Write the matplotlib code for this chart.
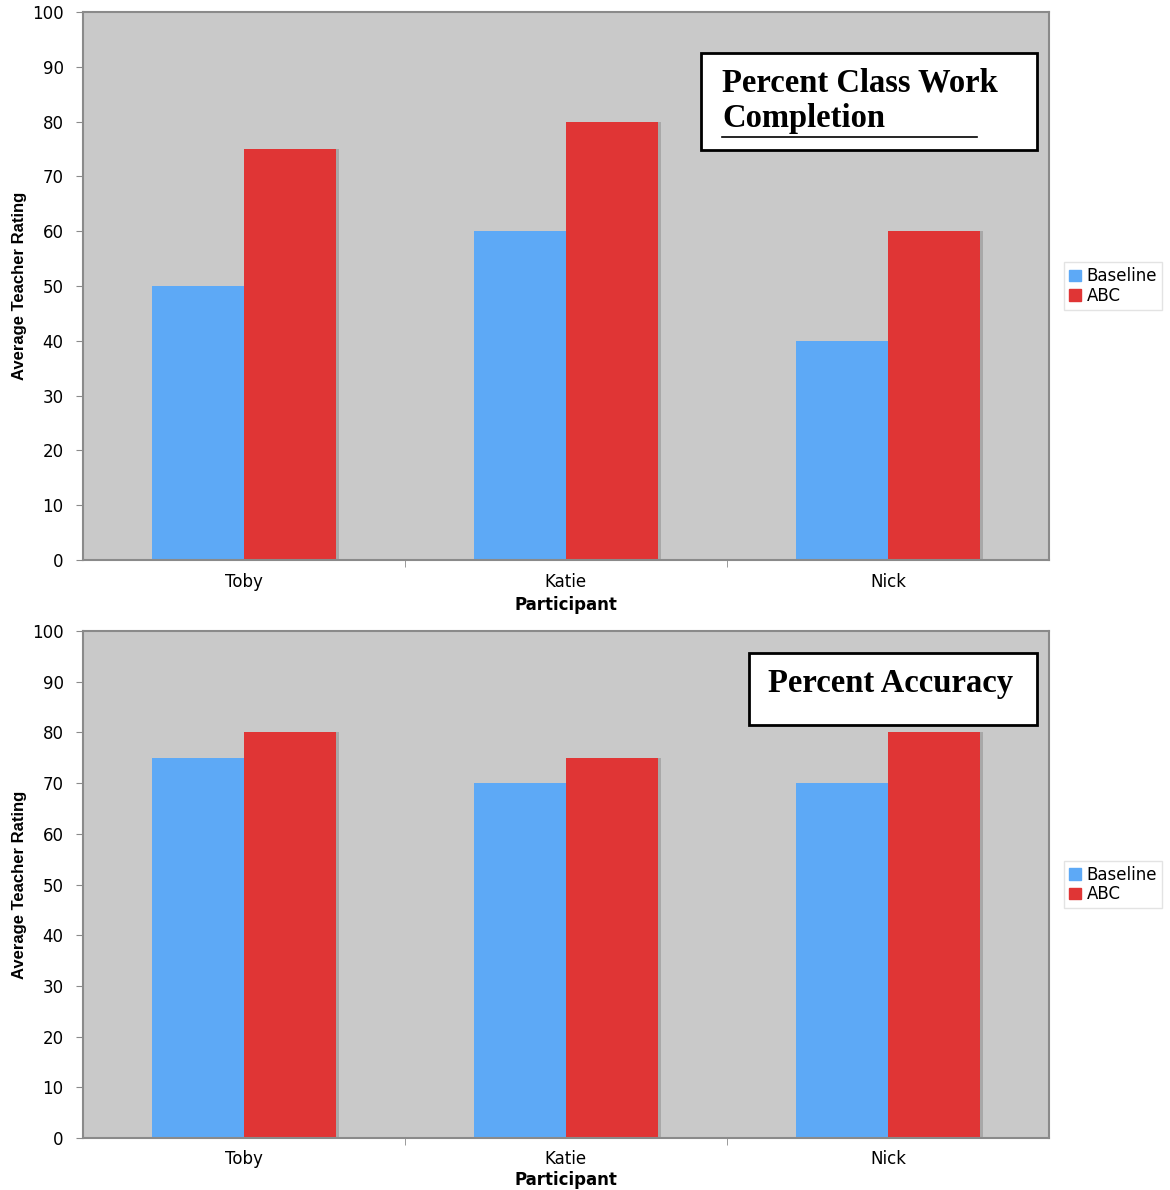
import numpy as np
import matplotlib
matplotlib.use('Agg')
import matplotlib.pyplot as plt
from matplotlib.patches import Patch, Rectangle

plt.rcParams['font.family'] = 'DejaVu Sans'

participants = ['Toby', 'Katie', 'Nick']
completion_baseline = [50, 60, 40]
completion_abc = [75, 80, 60]
accuracy_baseline = [75, 70, 70]
accuracy_abc = [80, 75, 80]

blue = '#5DA9F6'
red = '#E03535'
bg = '#C9C9C9'
spine = '#8A8A8A'

fig = plt.figure(figsize=(11.7, 11.9), dpi=100)
ax1 = fig.add_axes([0.0709, 0.5294, 0.8256, 0.4605])
ax2 = fig.add_axes([0.0709, 0.0437, 0.8256, 0.4260])

w = 0.286
x = np.arange(len(participants))


def draw(ax, base, abc):
    ax.set_facecolor(bg)
    # faint shadow to the right of the bars
    ax.bar(x + w / 2 + 0.01, abc, w, color='#A8A8A8', zorder=1, linewidth=0)
    ax.bar(x - w / 2, base, w, color=blue, zorder=2, linewidth=0)
    ax.bar(x + w / 2, abc, w, color=red, zorder=2, linewidth=0)
    ax.set_xlim(-0.5, 2.5)
    ax.set_ylim(0, 100)
    ax.set_yticks(range(0, 101, 10))
    ax.set_xticks(x)
    ax.set_xticklabels(participants, fontsize=12)
    ax.set_xticks([0.5, 1.5], minor=True)
    ax.tick_params(axis='x', which='major', length=0, pad=9)
    ax.tick_params(axis='x', which='minor', length=5, color=spine)
    ax.tick_params(axis='y', length=5, color=spine, labelsize=12, pad=9)
    for s in ax.spines.values():
        s.set_color(spine)
        s.set_linewidth(1.5)
    ax.set_ylabel('Average Teacher Rating', fontsize=12, fontweight='bold',
                  family='Liberation Sans')
    ax.yaxis.set_label_coords(-0.058, 0.5)
    ax.set_xlabel('Participant', fontsize=12, fontweight='bold')
    ax.xaxis.set_label_coords(0.5, -0.066)
    handles = [Patch(color=blue, label='Baseline'), Patch(color=red, label='ABC')]
    ax.legend(handles=handles, loc='center left', bbox_to_anchor=(1.016, 0.5),
              fontsize=12, frameon=True, fancybox=False, edgecolor='#DDDDDD',
              handlelength=0.7, handleheight=0.7, handletextpad=0.35,
              borderpad=0.3, labelspacing=0.1, borderaxespad=0)


def title_box(ax, x0, y0, x1, y1):
    ax.add_patch(Rectangle((x0, y0), x1 - x0, y1 - y0, transform=ax.transAxes,
                           facecolor='white', edgecolor='black', linewidth=2,
                           zorder=5))


draw(ax1, completion_baseline, completion_abc)
draw(ax2, accuracy_baseline, accuracy_abc)

title_font = dict(family='Liberation Serif', fontweight='bold', fontsize=23.5,
                  zorder=6)

title_box(ax1, 0.6398, 0.7482, 0.9876, 0.9252)
ax1.text(0.6615, 0.871, 'Percent Class Work', transform=ax1.transAxes,
         ha='left', va='center', **title_font)
ax1.text(0.6615, 0.805, 'Completion', transform=ax1.transAxes,
         ha='left', va='center', **title_font)
ax1.plot([0.6615, 0.9255], [0.7719, 0.7719], transform=ax1.transAxes,
         color='black', linewidth=1.2, zorder=7)

title_box(ax2, 0.6894, 0.8146, 0.9876, 0.9566)
ax2.text(0.8364, 0.897, 'Percent Accuracy', transform=ax2.transAxes,
         ha='center', va='center', **title_font)

fig.savefig('out.png', dpi=100)
